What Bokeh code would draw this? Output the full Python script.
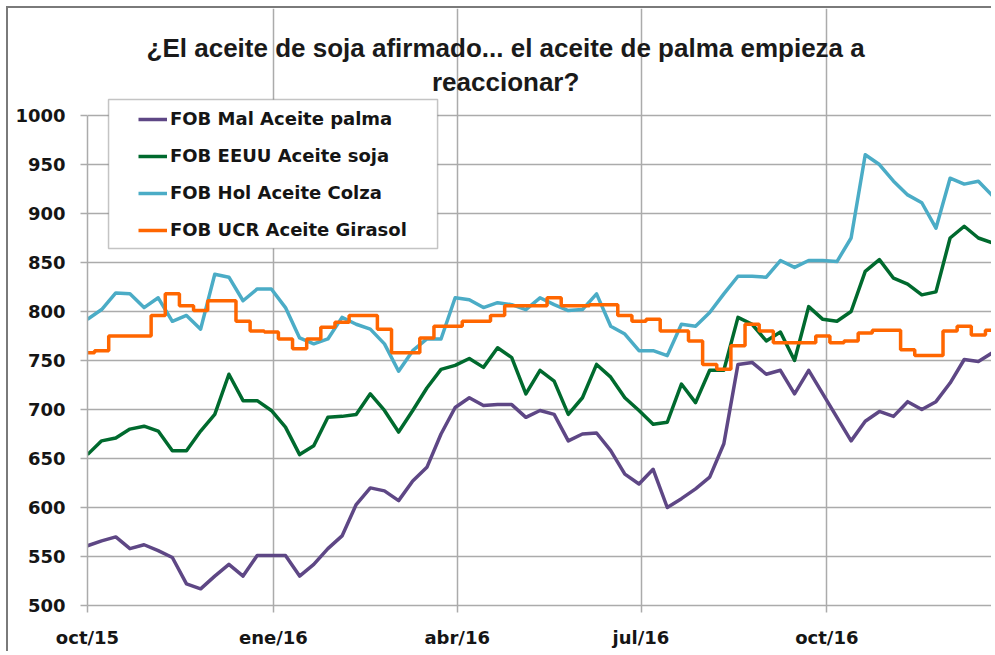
from datetime import datetime
import pandas as pd
from bokeh.plotting import figure
from bokeh.models import Range1d, FixedTicker, Legend, LegendItem, Label, BoxAnnotation
from bokeh.embed import file_html
from bokeh.resources import INLINE

# ---------------- data ----------------
dates = [
    "2015-10-01", "2015-10-08", "2015-10-15", "2015-10-22", "2015-10-29", "2015-11-05",
    "2015-11-12", "2015-11-19", "2015-11-26", "2015-12-03", "2015-12-10", "2015-12-17",
    "2015-12-24", "2015-12-31", "2016-01-07", "2016-01-14", "2016-01-21", "2016-01-28",
    "2016-02-04", "2016-02-11", "2016-02-18", "2016-02-25", "2016-03-03", "2016-03-10",
    "2016-03-17", "2016-03-24", "2016-03-31", "2016-04-07", "2016-04-14", "2016-04-21",
    "2016-04-28", "2016-05-05", "2016-05-12", "2016-05-19", "2016-05-26", "2016-06-02",
    "2016-06-09", "2016-06-16", "2016-06-23", "2016-06-30", "2016-07-07", "2016-07-14",
    "2016-07-21", "2016-07-28", "2016-08-04", "2016-08-11", "2016-08-18", "2016-08-25",
    "2016-09-01", "2016-09-08", "2016-09-15", "2016-09-22", "2016-09-29", "2016-10-06",
    "2016-10-13", "2016-10-20", "2016-10-27", "2016-11-03", "2016-11-10", "2016-11-17",
    "2016-11-24", "2016-12-01", "2016-12-08", "2016-12-15", "2016-12-22",
]
palma = [561, 566, 570, 558, 562, 556, 549, 522, 517, 530, 542, 530, 551, 551,
         551, 530, 542, 558, 571, 603, 620, 617, 607, 627, 641, 675, 702, 712,
         704, 705, 705, 692, 699, 695, 668, 675, 676, 658, 634, 624, 639,
         600, 609, 619, 631, 665, 746, 748, 736, 740, 716, 740, 716,
         692, 668, 688, 698, 693, 708, 700, 708, 727, 751, 749, 758]
soja = [654, 668, 671, 680, 683, 678, 658, 658, 678, 695, 736, 709, 709, 699,
        682, 654, 663, 692, 693, 695, 716, 699, 677, 699, 722, 741, 745, 752,
        743, 763, 753, 716, 740, 729, 695, 712, 746, 733, 712, 699, 685,
        687, 726, 707, 740, 740, 794, 787, 770, 779, 750, 805, 792,
        790, 800, 841, 853, 834, 828, 817, 820, 875, 887, 875, 870]
colza = [792, 802, 819, 818, 804, 814, 790, 796, 782, 838, 835, 811, 823, 823,
         804, 773, 767, 772, 794, 787, 782, 767, 739, 760, 772, 772, 814, 812,
         804, 809, 807, 802, 814, 807, 801, 802, 818, 785, 777, 760, 760,
         755, 787, 785, 799, 818, 836, 836, 835, 852, 845, 852, 852,
         851, 875, 960, 950, 933, 919, 911, 885, 936, 930, 933, 918]
girasol = [758, 760, 775, 775, 775, 796, 818, 806, 801, 811, 811, 790, 780, 779,
           772, 762, 772, 784, 789, 796, 796, 782, 758, 758, 773, 785, 785, 790,
           790, 796, 806, 806, 806, 814, 806, 806, 807, 807, 796, 790, 792,
           780, 780, 770, 746, 741, 765, 787, 780, 768, 768, 768, 775,
           768, 770, 778, 781, 781, 761, 755, 755, 780, 785, 776, 781]

series_names = ["FOB Mal Aceite palma", "FOB EEUU Aceite soja",
                "FOB Hol Aceite Colza", "FOB UCR Aceite Girasol"]
series_colors = ["#5e4785", "#006a2e", "#4bacc6", "#ff6600"]
tick_dates = ["2015-10-01", "2016-01-01", "2016-04-01", "2016-07-01", "2016-10-01"]
tick_labels = ["oct/15", "ene/16", "abr/16", "jul/16", "oct/16"]
y_ticks = [500, 550, 600, 650, 700, 750, 800, 850, 900, 950, 1000]
y_min, y_max = 500, 1000
title_lines = ["¿El aceite de soja afirmado... el aceite de palma empieza a",
               "reaccionar?"]

# ---------------- figure ----------------
x = pd.to_datetime(dates)
tick_ms = [pd.Timestamp(d).value / 1e6 for d in tick_dates]

GRID = "#ababab"

# the frame reaches up to the top of the canvas so that the title and the
# legend (which sit above the 1000 line) are drawn inside it; axis and grid
# lines are bounded to the 500-1000 value band.
p = figure(width=985, height=645, x_axis_type="datetime", title=None,
           x_range=Range1d(start=datetime(2015, 10, 1), end=datetime(2016, 12, 21, 12)),
           y_range=Range1d(y_min, 1109.2),
           output_backend="svg", toolbar_location=None,
           min_border_left=79, min_border_right=2, min_border_top=0, min_border_bottom=48)
p.styles = {"margin-left": "6px", "margin-top": "6px",
            "border-left": "2px solid #7a7a7a", "border-top": "2px solid #7a7a7a"}
p.outline_line_color = None
p.background_fill_color = "white"
p.border_fill_color = "white"

# axes
p.xaxis.ticker = FixedTicker(ticks=tick_ms)
p.xaxis.major_label_overrides = {t: l for t, l in zip(tick_ms, tick_labels)}
p.yaxis.ticker = FixedTicker(ticks=y_ticks)
p.yaxis.bounds = (y_min, y_max)
for ax in (p.xaxis[0], p.yaxis[0]):
    ax.axis_line_color = GRID
    ax.axis_line_width = 1.5
    ax.major_tick_line_color = GRID
    ax.major_tick_line_width = 1.5
    ax.major_tick_out = 7
    ax.major_tick_in = 0
    ax.minor_tick_line_color = None
    ax.major_label_text_font = "DejaVu Sans"
    ax.major_label_text_font_style = "bold"
    ax.major_label_text_font_size = "18px"
    ax.major_label_text_color = "#151515"
p.yaxis.major_label_standoff = 15
p.xaxis.major_label_standoff = 14

p.xgrid.ticker = FixedTicker(ticks=tick_ms)
p.xgrid.bounds = (y_min, y_max)
p.ygrid.ticker = FixedTicker(ticks=y_ticks)
p.grid.grid_line_color = GRID
p.grid.grid_line_width = 1.5

# series
lw = 3.5
r_colza = p.line(x, colza, line_width=lw, color=series_colors[2], line_join="round")
r_soja = p.line(x, soja, line_width=lw, color=series_colors[1], line_join="round")
r_palma = p.line(x, palma, line_width=lw, color=series_colors[0], line_join="round")
r_gira = p.step(x, girasol, mode="center", line_width=lw, color=series_colors[3])

# legend box (white, hides grid) + legend
box = BoxAnnotation(left=datetime(2015, 10, 11, 10), right=datetime(2016, 3, 22, 7),
                    top=1016.3, bottom=864.3,
                    fill_color="white", fill_alpha=1.0,
                    line_color="#3c3c3c", line_width=1.5)
p.add_layout(box)

legend = Legend(items=[LegendItem(label=series_names[0], renderers=[r_palma]),
                       LegendItem(label=series_names[1], renderers=[r_soja]),
                       LegendItem(label=series_names[2], renderers=[r_colza]),
                       LegendItem(label=series_names[3], renderers=[r_gira])],
                location=(51, 365), padding=0, spacing=16, margin=0,
                label_height=20, glyph_height=20, glyph_width=29, label_standoff=3,
                border_line_alpha=0, background_fill_alpha=0,
                label_text_font="DejaVu Sans", label_text_font_style="bold",
                label_text_font_size="18px", label_text_color="#151515")
p.add_layout(legend)

# title (two centered lines)
title_x = datetime(2016, 4, 25)
for txt, yv in zip(title_lines, [1068.5, 1034.0]):
    p.add_layout(Label(x=title_x, y=yv, text=txt, text_align="center",
                       text_baseline="alphabetic",
                       text_font="Liberation Sans", text_font_style="bold",
                       text_font_size="26px", text_color="#1a1a1a"))

open("out.html", "w").write(file_html(p, INLINE))
